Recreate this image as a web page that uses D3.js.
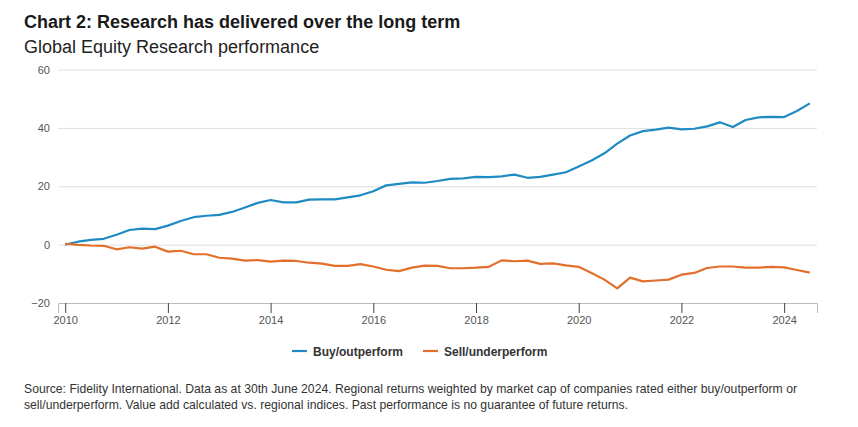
<!DOCTYPE html>
<html>
<head>
<meta charset="utf-8">
<script src="https://cdn.jsdelivr.net/npm/d3@7"></script>
<style>
  body { margin: 0; background: #fff; font-family: "Liberation Sans", Arial, sans-serif; }
  .grid line { stroke: #e0e0e0; }
  .grid path { display: none; }
  .axis text { fill: #555; font-size: 11px; font-family: "Liberation Sans", Arial, sans-serif; }
</style>
</head>
<body>
<div id="chart"></div>
<script>
// quarterly points, 2010 Q1 to 2024 mid-year
var startYear = 2010;
var buyValues = [0, 1.0, 1.6, 2.0, 3.4, 5.0, 5.5, 5.3, 6.5, 8.1, 9.4, 9.9, 10.2, 11.2, 12.7, 14.3,
  15.3, 14.5, 14.5, 15.4, 15.5, 15.5, 16.2, 16.9, 18.3, 20.3, 20.8, 21.3, 21.2, 21.8, 22.5, 22.7,
  23.2, 23.1, 23.4, 24.0, 22.9, 23.2, 24.0, 24.8, 26.8, 28.8, 31.3, 34.6, 37.4, 38.9, 39.4, 40.1,
  39.5, 39.7, 40.5, 41.9, 40.3, 42.7, 43.6, 43.8, 43.7, 45.8, 48.4];
var sellValues = [0.3, -0.1, -0.3, -0.4, -1.6, -0.9, -1.4, -0.7, -2.4, -2.1, -3.3, -3.3, -4.5, -4.8, -5.5, -5.3,
  -5.8, -5.5, -5.6, -6.2, -6.5, -7.3, -7.3, -6.7, -7.5, -8.6, -9.1, -7.9, -7.2, -7.3, -8.1, -8.1,
  -7.9, -7.6, -5.4, -5.7, -5.5, -6.6, -6.4, -7.1, -7.6, -9.7, -12.0, -15.0, -11.3, -12.6, -12.3, -12.0,
  -10.3, -9.7, -8.0, -7.5, -7.5, -7.9, -7.9, -7.6, -7.8, -8.7, -9.6];
var yTicks = [-20, 0, 20, 40, 60];
var xTicks = [2010, 2012, 2014, 2016, 2018, 2020, 2022, 2024];

var series = [
  { name: "Buy/outperform", values: buyValues, color: "#1f8bc3" },
  { name: "Sell/underperform", values: sellValues, color: "#e26f2b" }
];

var W = 858, H = 427;
var svg = d3.select("#chart").append("svg")
  .attr("width", W)
  .attr("height", H);

var x = d3.scaleLinear().domain([2009.86, 2024.64]).range([58, 817]);
var y = d3.scaleLinear().domain([-20, 60]).range([303, 69.5]);

// titles
svg.append("text").attr("x", 24).attr("y", 28)
  .attr("font-size", 18).attr("font-weight", "bold").attr("fill", "#1a1a1a")
  .text("Chart 2: Research has delivered over the long term");
svg.append("text").attr("x", 24).attr("y", 53)
  .attr("font-size", 18).attr("fill", "#222")
  .text("Global Equity Research performance");

// gridlines
svg.append("g")
  .attr("class", "grid axis")
  .attr("transform", "translate(58,0)")
  .call(d3.axisLeft(y).tickValues(yTicks).tickSize(-(817 - 58)).tickPadding(8))
  .call(function (g) { g.selectAll(".tick line").filter(function (d) { return d === -20; }).remove(); })
  .call(function (g) { g.selectAll(".tick text").attr("dy", "0.32em"); });

// x axis
var xAxis = svg.append("g")
  .attr("class", "axis")
  .attr("transform", "translate(0,303)")
  .call(d3.axisBottom(x).tickValues(xTicks).tickFormat(d3.format("d")).tickSize(10).tickPadding(3));
xAxis.select(".domain").attr("stroke", "#bbb");
xAxis.selectAll(".tick line").attr("stroke", "#444");

var line = d3.line()
  .x(function (d, i) { return x(startYear + i * 0.25); })
  .y(function (d) { return y(d); });

series.forEach(function (s) {
  svg.append("path")
    .datum(s.values)
    .attr("fill", "none")
    .attr("stroke", s.color)
    .attr("stroke-width", 2.2)
    .attr("stroke-linejoin", "round")
    .attr("d", line);
});

// legend
var legendPos = [292, 423];
series.forEach(function (s, i) {
  var g = svg.append("g").attr("transform", "translate(" + legendPos[i] + ",351)");
  g.append("line").attr("x1", 0).attr("x2", 15).attr("y1", 0).attr("y2", 0)
    .attr("stroke", s.color).attr("stroke-width", 2.2);
  g.append("text").attr("x", 21).attr("y", 4.5)
    .attr("font-size", 12).attr("font-weight", "bold").attr("fill", "#333")
    .text(s.name);
});

// footnote
var notes = [
  "Source: Fidelity International. Data as at 30th June 2024. Regional returns weighted by market cap of companies rated either buy/outperform or",
  "sell/underperform. Value add calculated vs. regional indices. Past performance is no guarantee of future returns."
];
svg.append("g").selectAll("text").data(notes).join("text")
  .attr("x", 24)
  .attr("y", function (d, i) { return 393 + i * 16; })
  .attr("font-size", 12.2).attr("fill", "#333")
  .text(function (d) { return d; });
</script>
</body>
</html>
